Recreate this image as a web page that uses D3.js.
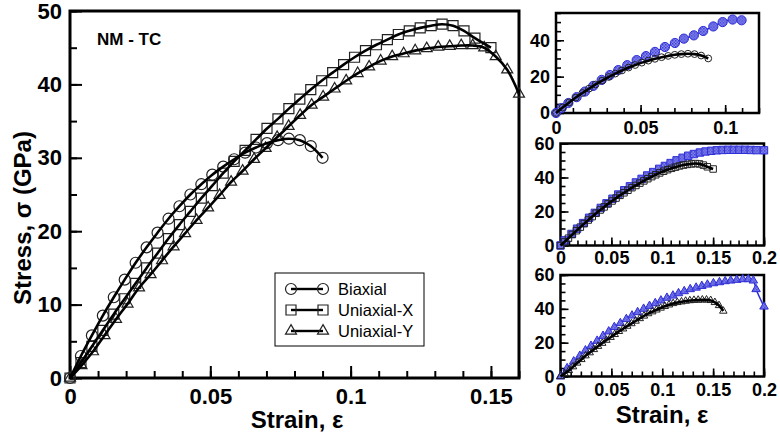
<!DOCTYPE html>
<html><head><meta charset="utf-8">
<script src="https://cdn.jsdelivr.net/npm/d3@7"></script>
<style>
html,body{margin:0;padding:0;background:#fff;}
svg{display:block;font-family:"Liberation Sans",Arial,Helvetica,sans-serif;}
</style></head>
<body><svg id="chart" width="780" height="435"></svg>
<script>
// ---------------- DATA ----------------
const biaxStrain = [0,0.0039,0.0078,0.0117,0.0156,0.0195,0.0234,0.0273,0.0312,0.0351,0.039,0.0429,0.0468,0.0507,0.0546,0.0585,0.0624,0.0663,0.0702,0.0741,0.078,0.0819,0.0858,0.09];
const biaxStress = [0,3.0,5.8,8.5,11.0,13.4,15.7,17.8,19.8,21.7,23.4,25.0,26.4,27.7,28.8,29.8,30.7,31.4,32.0,32.4,32.6,32.4,31.6,30.0];

const uxStrain = [0,0.0039,0.0078,0.0117,0.0156,0.0195,0.0234,0.0273,0.0312,0.0351,0.039,0.0429,0.0468,0.0507,0.0546,0.0585,0.0624,0.0663,0.0702,0.0741,0.078,0.0819,0.0858,0.0897,0.0936,0.0975,0.1014,0.1053,0.1092,0.1131,0.117,0.1209,0.1248,0.1287,0.1326,0.1365,0.1404,0.1443,0.15];
const uxStress = [0,2.1,4.3,6.5,8.7,10.8,12.9,15.0,17.0,19.0,20.9,22.7,24.5,26.2,27.9,29.5,31.0,32.5,34.0,35.3,36.7,38.0,39.3,40.5,41.6,42.7,43.7,44.6,45.4,46.1,46.8,47.3,47.7,48.0,48.2,48.0,47.3,46.3,45.0];

const uyStrain = [0,0.0041,0.0082,0.0123,0.0164,0.0205,0.0246,0.0287,0.0328,0.0369,0.041,0.0451,0.0492,0.0533,0.0574,0.0615,0.0656,0.0697,0.0738,0.0779,0.082,0.0861,0.0902,0.0943,0.0984,0.1025,0.1066,0.1107,0.1148,0.1189,0.123,0.1271,0.1312,0.1353,0.1394,0.1435,0.1476,0.1517,0.1558,0.16];
const uyStress = [0,1.7,3.6,5.8,8.0,10.1,12.3,14.1,16.0,17.9,19.7,21.5,23.2,24.9,26.7,28.2,29.8,31.3,32.8,34.3,35.8,37.2,38.3,39.4,40.5,41.5,42.4,43.2,43.8,44.2,44.6,44.9,45.1,45.2,45.3,45.3,45.0,43.8,42.0,38.7];

// comparison series (blue) in the insets
const cmpBiaxStrain = [0,0.0034,0.0073,0.0122,0.0171,0.022,0.027,0.0319,0.0368,0.0421,0.0477,0.0532,0.0585,0.0644,0.0703,0.0756,0.0815,0.087,0.093,0.0985,0.1044,0.1097];
const cmpBiaxStress = [0,2.7,5.5,8.7,11.8,14.9,18.2,20.9,23.6,26.3,29.1,31.3,33.6,36.3,38.5,40.9,42.7,45.1,47.6,50.0,51.4,51.0];

const cmpUxStrain = [0,0.0042,0.0108,0.0163,0.0222,0.0281,0.0337,0.0396,0.0452,0.0511,0.0567,0.0626,0.0682,0.0741,0.0797,0.0852,0.0911,0.097,0.1026,0.1082,0.1141,0.12,0.1255,0.1311,0.137,0.1426,0.1482,0.1537,0.1593,0.1648,0.1704,0.1759,0.1815,0.187,0.1926,0.2];
const cmpUxStress = [0,3.0,6.8,9.9,13.2,16.3,19.2,22.1,24.8,27.5,30.0,32.5,34.8,37.1,39.2,41.2,43.2,45.1,46.8,48.5,50.1,51.6,52.8,53.8,54.7,55.3,55.7,56.0,56.2,56.3,56.3,56.3,56.3,56.2,56.1,56.0];

const cmpUyStrain = [0,0.0065,0.013,0.019,0.0245,0.03,0.036,0.0418,0.0474,0.0529,0.0588,0.0647,0.0703,0.0758,0.0817,0.0875,0.0931,0.0987,0.1046,0.1105,0.116,0.1216,0.1275,0.1333,0.1389,0.1444,0.1503,0.1562,0.1618,0.1673,0.1732,0.1791,0.1846,0.1895,0.1922,0.2];
const cmpUyStress = [0,4.9,8.9,12.2,15.4,18.1,21.1,24.0,26.6,29.2,31.5,33.9,36.0,38.0,40.0,41.7,43.3,44.9,46.5,47.8,49.2,50.4,51.6,52.5,53.5,54.3,55.1,55.7,56.3,56.7,57.1,57.5,57.5,56.7,51.6,41.3];

const legendLabels = ["Biaxial","Uniaxial-X","Uniaxial-Y"];
const mainXTicks = [0,0.05,0.1,0.15];
const mainXTickLabels = ["0","0.05","0.1","0.15"];
const mainYTicks = [0,10,20,30,40,50];
const mainYTickLabels = ["0","10","20","30","40","50"];
const insetXTicks1 = [0,0.05,0.1];
const insetXTickLabels1 = ["0","0.05","0.1"];
const insetXTicks23 = [0,0.05,0.1,0.15,0.2];
const insetXTickLabels23 = ["0","0.05","0.1","0.15","0.2"];
const insetYTicks1 = [0,20,40];
const insetYTickLabels1 = ["0","20","40"];
const insetYTicks23 = [0,20,40,60];
const insetYTickLabels23 = ["0","20","40","60"];
const panelTag = "NM - TC";
const xTitle = "Strain, \u03b5";
const yTitle = "Stress, \u03c3 (GPa)";

// ---------------- DRAW ----------------
const svg = d3.select("#chart");
const defs = svg.append("defs");
const pat = defs.append("pattern").attr("id","bluePat").attr("width",3).attr("height",3).attr("patternUnits","userSpaceOnUse");
pat.append("rect").attr("width",3).attr("height",3).attr("fill","#8c8cec");
pat.append("rect").attr("width",1.5).attr("height",1.5).attr("fill","#3c3cd6");
pat.append("rect").attr("x",1.5).attr("y",1.5).attr("width",1.5).attr("height",1.5).attr("fill","#5050dc");

const zip = (a,b) => a.map((v,i)=>[v,b[i]]);

function panel(o){
  const g = svg.append("g");
  const x = d3.scaleLinear().domain(o.xd).range(o.xr);
  const y = d3.scaleLinear().domain(o.yd).range(o.yr);
  g.append("g").attr("transform",`translate(0,${o.yr[0]})`)
    .call(d3.axisBottom(x).tickValues(o.xMinor).tickSize(-o.minorLen).tickFormat(""))
    .call(s=>s.select(".domain").remove());
  g.append("g").attr("transform",`translate(${o.xr[0]},0)`)
    .call(d3.axisLeft(y).tickValues(o.yMinor).tickSize(-o.minorLen).tickFormat(""))
    .call(s=>s.select(".domain").remove());
  const ax = g.append("g").attr("transform",`translate(0,${o.yr[0]})`)
    .call(d3.axisBottom(x).tickValues(o.xTicks).tickSize(-o.majorLen).tickPadding(o.xPad).tickFormat((d,i)=>o.xLabels[i]));
  ax.select(".domain").remove();
  const ay = g.append("g").attr("transform",`translate(${o.xr[0]},0)`)
    .call(d3.axisLeft(y).tickValues(o.yTicks).tickSize(-o.majorLen).tickPadding(o.yPad).tickFormat((d,i)=>o.yLabels[i]));
  ay.select(".domain").remove();
  g.selectAll(".tick line").attr("stroke","#000").attr("stroke-width",o.tickW);
  g.selectAll(".tick text").attr("font-size",o.fs).attr("font-weight","bold").attr("fill","#000")
    .attr("font-family","'Liberation Sans',Arial,sans-serif");
  g.append("rect").attr("x",o.xr[0]).attr("y",o.yr[1]).attr("width",o.xr[1]-o.xr[0]).attr("height",o.yr[0]-o.yr[1])
    .attr("fill","none").attr("stroke","#000").attr("stroke-width",o.frameW);
  return {g,x,y};
}

function markers(g, x, y, pts, shape, size, fill, stroke, sw){
  const sym = shape==="circle" ? d3.symbolCircle : shape==="square" ? d3.symbolSquare : d3.symbolTriangle;
  let area;
  if(shape==="circle") area = Math.PI*size*size;
  else if(shape==="square") area = size*size;
  else area = size*size*Math.sqrt(3)/4;
  g.append("g").selectAll("path").data(pts).join("path")
    .attr("d", d3.symbol().type(sym).size(area))
    .attr("transform", d=>`translate(${x(d[0])},${y(d[1])})`)
    .attr("fill", fill).attr("stroke", stroke).attr("stroke-width", sw);
}
function curve(g, x, y, pts, color, w){
  g.append("path").datum(pts)
    .attr("d", d3.line().x(d=>x(d[0])).y(d=>y(d[1])).curve(d3.curveCatmullRom.alpha(0.5)))
    .attr("fill","none").attr("stroke",color).attr("stroke-width",w).attr("stroke-linejoin","round");
}

// ---- main panel ----
const M = panel({xd:[0,0.16], xr:[70,519], yd:[0,50], yr:[378,11],
  xTicks:mainXTicks, xLabels:mainXTickLabels, xMinor:d3.range(0,0.1601,0.01),
  yTicks:mainYTicks, yLabels:mainYTickLabels, yMinor:d3.range(0,50.1,5),
  majorLen:12, minorLen:7, xPad:10, yPad:8, fs:22, tickW:2, frameW:3});

const biax = zip(biaxStrain, biaxStress);
const ux = zip(uxStrain, uxStress);
const uy = zip(uyStrain, uyStress);

markers(M.g, M.x, M.y, uy, "triangle", 11, "none", "#222", 1.2);
markers(M.g, M.x, M.y, ux, "square", 10, "none", "#222", 1.2);
markers(M.g, M.x, M.y, biax, "circle", 5.5, "none", "#222", 1.2);
curve(M.g, M.x, M.y, uy, "#000", 2.6);
curve(M.g, M.x, M.y, ux, "#000", 2.6);
curve(M.g, M.x, M.y, biax, "#000", 2.6);

svg.append("text").attr("x",97).attr("y",45).attr("font-size",17).attr("font-weight","bold").text(panelTag);

// legend
const lg = svg.append("g");
lg.append("rect").attr("x",275).attr("y",273).attr("width",149).attr("height",73).attr("fill","#fff").attr("stroke","#000").attr("stroke-width",1);
const legShapes = ["circle","square","triangle"];
const legSizes = [5.5,10,11];
const legX = d3.scaleLinear().domain([0,1]).range([291,323]);
const legY = d3.scalePoint().domain(legendLabels).range([289,331]);
legendLabels.forEach((lab,i)=>{
  const yy = legY(lab);
  lg.append("line").attr("x1",legX(0)).attr("x2",legX(1)).attr("y1",yy).attr("y2",yy).attr("stroke","#000").attr("stroke-width",2.4);
  markers(lg, legX, ()=>yy, [[0,0],[1,0]], legShapes[i], legSizes[i], "none", "#222", 1.2);
  lg.append("text").attr("x",338).attr("y",yy).attr("dy","0.35em").attr("font-size",16.5).text(lab);
});

// axis titles (main)
svg.append("text").attr("x",297).attr("y",428).attr("text-anchor","middle").attr("font-size",24).attr("font-weight","bold").text(xTitle);
svg.append("text").attr("transform","translate(31,218) rotate(-90)").attr("text-anchor","middle").attr("font-size",24).attr("font-weight","bold").text(yTitle);

// ---- insets ----
const I1 = panel({xd:[0,0.12], xr:[556,759], yd:[0,55], yr:[113,13],
  xTicks:insetXTicks1, xLabels:insetXTickLabels1, xMinor:d3.range(0,0.1201,0.01),
  yTicks:insetYTicks1, yLabels:insetYTickLabels1, yMinor:d3.range(0,55.1,5),
  majorLen:8, minorLen:5, xPad:8, yPad:6, fs:18, tickW:1.6, frameW:2.5});
const cb = zip(cmpBiaxStrain, cmpBiaxStress);
curve(I1.g, I1.x, I1.y, cb, "#2a2ad8", 1.5);
markers(I1.g, I1.x, I1.y, cb, "circle", 4.6, "url(#bluePat)", "#2e2ed8", 1);
markers(I1.g, I1.x, I1.y, biax, "circle", 3.4, "none", "#222", 1);
curve(I1.g, I1.x, I1.y, biax, "#000", 2.6);

const I2 = panel({xd:[0,0.2], xr:[560.5,764], yd:[0,60], yr:[245.5,143.5],
  xTicks:insetXTicks23, xLabels:insetXTickLabels23, xMinor:d3.range(0,0.2001,0.05/6),
  yTicks:insetYTicks23, yLabels:insetYTickLabels23, yMinor:d3.range(0,60.1,5),
  majorLen:8, minorLen:5, xPad:6, yPad:6, fs:18, tickW:1.6, frameW:2.5});
const cx = zip(cmpUxStrain, cmpUxStress);
curve(I2.g, I2.x, I2.y, cx, "#2a2ad8", 1.5);
markers(I2.g, I2.x, I2.y, cx, "square", 7.4, "url(#bluePat)", "#2e2ed8", 1);
markers(I2.g, I2.x, I2.y, ux, "square", 6.5, "none", "#222", 1);
curve(I2.g, I2.x, I2.y, ux, "#000", 2.6);

const I3 = panel({xd:[0,0.2], xr:[560.5,764], yd:[0,60], yr:[376.5,275],
  xTicks:insetXTicks23, xLabels:insetXTickLabels23, xMinor:d3.range(0,0.2001,0.01),
  yTicks:insetYTicks23, yLabels:insetYTickLabels23, yMinor:d3.range(0,60.1,5),
  majorLen:8, minorLen:5, xPad:7, yPad:6, fs:18, tickW:1.6, frameW:2.5});
const cy = zip(cmpUyStrain, cmpUyStress);
curve(I3.g, I3.x, I3.y, cy, "#2a2ad8", 1.5);
markers(I3.g, I3.x, I3.y, cy, "triangle", 8.5, "url(#bluePat)", "#2e2ed8", 1);
markers(I3.g, I3.x, I3.y, uy, "triangle", 7.5, "none", "#222", 1);
curve(I3.g, I3.x, I3.y, uy, "#000", 2.6);

svg.append("text").attr("x",662).attr("y",423).attr("text-anchor","middle").attr("font-size",24).attr("font-weight","bold").text(xTitle);
</script></body></html>
